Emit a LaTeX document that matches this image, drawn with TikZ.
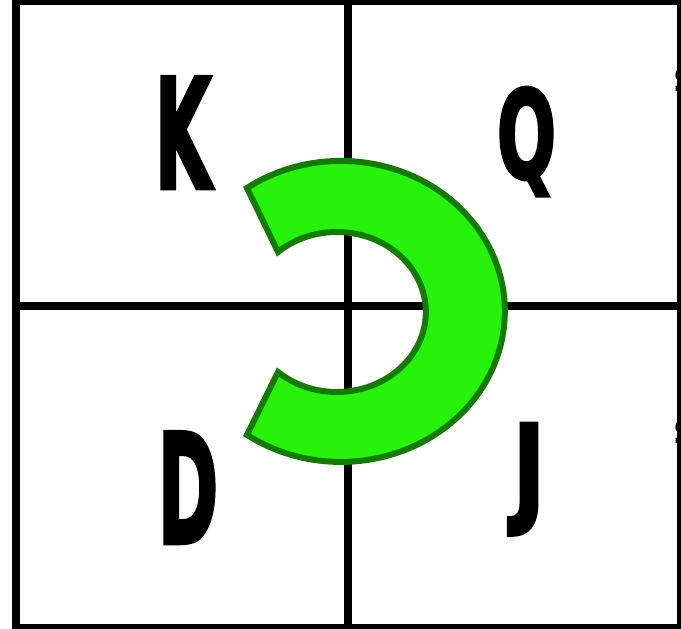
\documentclass[tikz,border=0pt]{standalone}
\usepackage{fontspec}
\newfontfamily\letterfont{DejaVu Sans}[UprightFeatures={FakeBold=3},BoldFeatures={FakeBold=3}]
\newfontfamily\edgefont{DejaVu Sans}
\definecolor{ringfill}{RGB}{38,242,12}
\definecolor{ringline}{RGB}{20,122,0}
\newcommand\letterbox[3]{\scalebox{#1}[1]{\letterfont\bfseries\fontsize{#2}{#2}\selectfont #3}}
\begin{document}
\begin{tikzpicture}[x=1pt,y=1pt,
  gridline/.style={line width=8pt,black},
  ring/.style={draw=ringline,line width=6pt,fill=ringfill,line join=miter},
  bigletter/.style={inner sep=0pt,anchor=base},
  edgeletter/.style={inner sep=0pt,anchor=west}]
\useasboundingbox (0,0) rectangle (681,629);
\clip (0,0) rectangle (681,629);
\fill[white] (0,0) rectangle (681,629);
% grid
\draw[gridline] (16,628) rectangle (681,1);
\draw[gridline] (347.5,628) -- (347.5,1);
\draw[gridline] (16,323) -- (681,323);
% ring
\draw[ring] (247,441)
  arc[start angle=124.9,end angle=-124.9,x radius=164,y radius=150.5]
  -- (278,257)
  arc[start angle=-131.4,end angle=131.4,x radius=89,y radius=80]
  -- cycle;
% letters
\node[bigletter] (k) at (183,441) {\letterbox{0.48}{152}{K}};
\node[bigletter] (q) at (526.5,451) {\letterbox{0.57}{122}{Q}};
\node[bigletter] (d) at (188,86) {\letterbox{0.48}{152}{D}};
\node[bigletter] (j) at (529,118) {\letterbox{0.72}{120}{J}};
\node[edgeletter] (s1) at (673,549) {\edgefont\bfseries\fontsize{33}{33}\selectfont S};
\node[edgeletter] (s2) at (673,197) {\edgefont\bfseries\fontsize{33}{33}\selectfont S};
\end{tikzpicture}
\end{document}
